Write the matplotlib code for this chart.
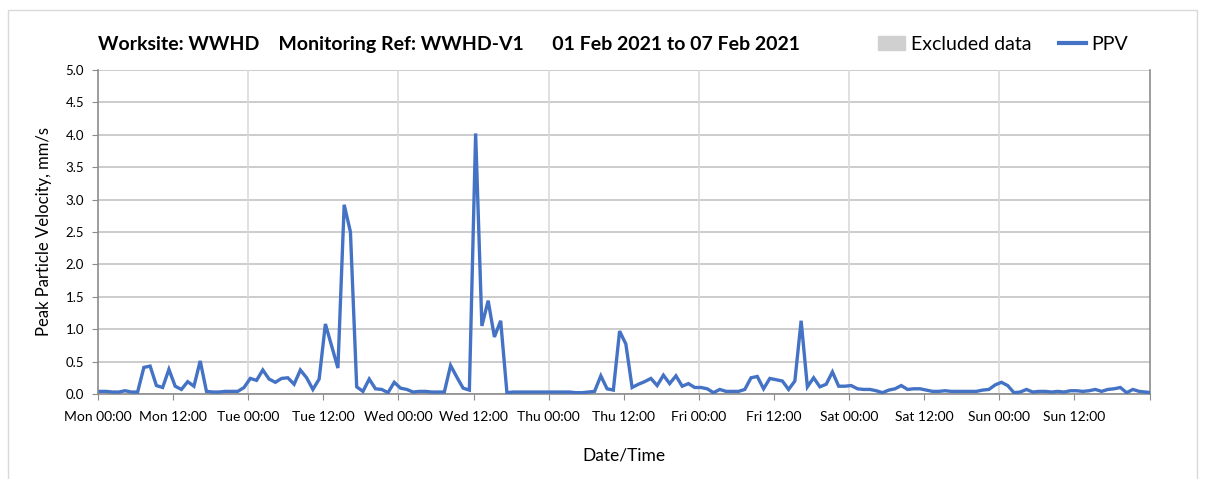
import pandas as pd
import numpy as np
import matplotlib.pyplot as plt
from matplotlib.patches import Rectangle
from matplotlib.lines import Line2D

plt.rcParams['font.family'] = ['Lato', 'DejaVu Sans']

# Hourly PPV readings (mm/s), logged at 20 past each hour
first_reading = '2021-02-01 00:20'
ppv_mon = [0.04, 0.04, 0.03, 0.03, 0.05, 0.03, 0.03, 0.41, 0.43, 0.13, 0.10, 0.38,
           0.12, 0.07, 0.19, 0.12, 0.51, 0.04, 0.03, 0.03, 0.04, 0.04, 0.04, 0.10]
ppv_tue = [0.24, 0.21, 0.37, 0.23, 0.18, 0.24, 0.25, 0.15, 0.37, 0.25, 0.07, 0.23,
           1.08, 0.74, 0.40, 2.92, 2.50, 0.11, 0.04, 0.23, 0.08, 0.07, 0.02, 0.18]
ppv_wed = [0.09, 0.07, 0.03, 0.04, 0.04, 0.03, 0.03, 0.03, 0.44, 0.26, 0.09, 0.06,
           4.02, 1.05, 1.44, 0.88, 1.13, 0.02, 0.03, 0.03, 0.03, 0.03, 0.03, 0.03]
ppv_thu = [0.03, 0.03, 0.03, 0.03, 0.02, 0.02, 0.03, 0.04, 0.28, 0.08, 0.06, 0.97,
           0.77, 0.10, 0.15, 0.19, 0.24, 0.13, 0.29, 0.16, 0.28, 0.12, 0.16, 0.10]
ppv_fri = [0.10, 0.08, 0.02, 0.07, 0.04, 0.04, 0.04, 0.07, 0.25, 0.27, 0.08, 0.24,
           0.22, 0.20, 0.07, 0.20, 1.13, 0.11, 0.25, 0.11, 0.15, 0.34, 0.12, 0.12]
ppv_sat = [0.13, 0.08, 0.07, 0.07, 0.05, 0.02, 0.06, 0.08, 0.13, 0.07, 0.08, 0.08,
           0.06, 0.04, 0.04, 0.05, 0.04, 0.04, 0.04, 0.04, 0.04, 0.06, 0.07, 0.14]
ppv_sun = [0.18, 0.13, 0.02, 0.03, 0.07, 0.03, 0.04, 0.04, 0.03, 0.04, 0.03, 0.05,
           0.05, 0.04, 0.05, 0.07, 0.04, 0.07, 0.08, 0.10, 0.02, 0.07, 0.04, 0.03, 0.02]

ppv = ppv_mon + ppv_tue + ppv_wed + ppv_thu + ppv_fri + ppv_sat + ppv_sun
times = pd.date_range(first_reading, periods=len(ppv), freq='h')

x_start = pd.Timestamp('2021-02-01 00:00')
x_end = pd.Timestamp('2021-02-08 00:00')
y_ticks = np.arange(0, 5.01, 0.5)

title = 'Worksite: WWHD    Monitoring Ref: WWHD-V1      01 Feb 2021 to 07 Feb 2021'

blue = '#4472C4'
axis_grey = '#8c8c8c'

fig = plt.figure(figsize=(12.05, 4.79), dpi=100)
ax = fig.add_axes([0.0813, 0.1775, 0.8727, 0.6765])

ax.plot(times, ppv, color=blue, lw=2.4, solid_joinstyle='miter', zorder=3)

ax.set_xlim(x_start, x_end)
ax.set_ylim(0, 5.0)
ax.set_yticks(y_ticks)
ax.set_yticklabels([f'{v:.1f}' for v in y_ticks], fontsize=9.5)

# ticks every 12 h, no label on the closing Mon 00:00
x_ticks = pd.date_range(x_start, x_end, freq='12h')
ax.set_xticks(x_ticks)
ax.set_xticklabels([t.strftime('%a %H:%M') for t in x_ticks[:-1]] + [''])
ax.tick_params(axis='x', labelsize=10, pad=8, length=4, color=axis_grey)
ax.tick_params(axis='y', length=4, color=axis_grey, pad=6)

# horizontal grid every 0.5, vertical grid once a day
ax.grid(axis='y', color='#c4c4c4', lw=1.2)
for d in pd.date_range(x_start, x_end, freq='D')[1:-1]:
    ax.axvline(d, color='#dadada', lw=1.2, zorder=1)
ax.set_axisbelow(True)

for side in ['left', 'bottom', 'right']:
    ax.spines[side].set_color(axis_grey)
    ax.spines[side].set_linewidth(1.2)
ax.spines['top'].set_visible(False)

ax.set_ylabel('Peak Particle Velocity, mm/s', fontsize=12, labelpad=10)
ax.set_xlabel('Date/Time', fontsize=12.5, labelpad=18)

fig.text(0.0813, 0.908, title, fontsize=14, fontweight='bold', va='center')

handles = [Rectangle((0, 0), 1, 1, color='#d0d0d0'),
           Line2D([], [], color=blue, lw=3)]
fig.legend(handles, ['Excluded data', 'PPV'], loc='center right',
           bbox_to_anchor=(0.951, 0.908), ncol=2, frameon=False,
           fontsize=14, handlelength=1.4, handletextpad=0.3, columnspacing=1.4)

# light chart border
fig.add_artist(Rectangle((0.0066, -0.1), 0.9868, 1.079, transform=fig.transFigure,
                         fill=False, edgecolor='#d9d9d9', lw=1))

fig.savefig('out.png', dpi=100)
